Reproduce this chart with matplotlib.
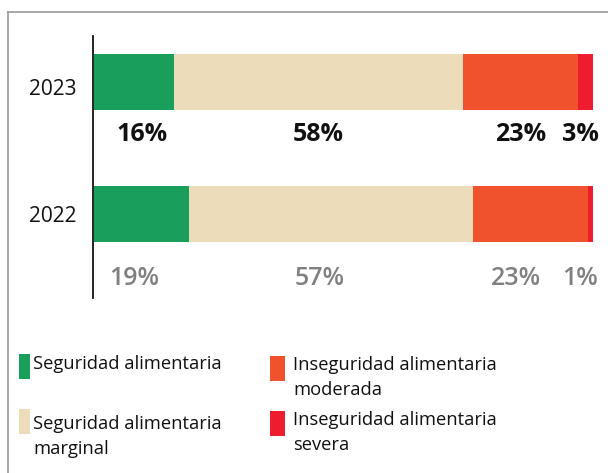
import matplotlib
matplotlib.use("Agg")
import matplotlib.pyplot as plt
from matplotlib.patches import Rectangle
from matplotlib.lines import Line2D
import matplotlib.transforms as mtransforms

years = ["2023", "2022"]
categories = ["Seguridad alimentaria", "Seguridad alimentaria\nmarginal",
              "Inseguridad alimentaria\nmoderada", "Inseguridad alimentaria\nsevera"]
values_2023 = [16, 58, 23, 3]
values_2022 = [19, 57, 23, 1]
series = [values_2023, values_2022]
colors = ["#1a9e5c", "#eddcb9", "#f0522d", "#ed1c2e"]

plt.rcParams['font.family'] = ['Open Sans', 'DejaVu Sans']

W, H = 608, 473
fig = plt.figure(figsize=(W / 100, H / 100), dpi=100)

def fx(px):
    return px / W

def fy(py):
    return 1 - py / H

# frame lines
fig.add_artist(Line2D([fx(8), fx(608)], [fy(12), fy(12)], color="#999999", lw=1.2))
fig.add_artist(Line2D([fx(8), fx(8)], [fy(12), fy(473)], color="#999999", lw=1.2))

ax = fig.add_axes([fx(94), fy(298), fx(499), (298 - 36) / H])
ypos = [1, 0]
bar_h = 0.424
for yv, vals in zip(ypos, series):
    left = 0
    for v, c in zip(vals, colors):
        ax.barh(yv, v, left=left, height=bar_h, color=c, edgecolor="none")
        left += v

# value labels
label_offsets = [-0.398, -0.492]
label_colors = ["#111111", "#808080"]
label_weights = ["bold", "semibold"]
for yv, vals, off, col, wt in zip(ypos, series, label_offsets, label_colors, label_weights):
    left = 0
    for i, v in enumerate(vals):
        xc = min(left + v / 2, 97.4)
        if i == 0:
            xc = left + v / 2 + (1.6 if wt == "bold" else -1.5)
        elif i == 1 and wt != "bold":
            xc -= 2.2
        elif i == 2 and wt != "bold":
            xc -= 3.0
        ax.text(xc, yv + off, f"{v}%", ha="center", va="center", fontsize=18,
                fontweight=wt, color=col, clip_on=False)
        left += v

ax.set_xlim(0, 100)
ax.set_ylim(-0.636, 1.348)
ax.set_yticks([])
ax.set_xticks([])
# year labels (category axis labels)
ylabel_shift = [-7.5, -2.5]
for yv, yr, sh in zip(ypos, years, ylabel_shift):
    tr = ax.get_yaxis_transform() + mtransforms.ScaledTranslation(-17 / 100, sh / 100, fig.dpi_scale_trans)
    ax.text(0, yv, yr, transform=tr, ha="right", va="center", fontsize=15,
            color="#111111", clip_on=False)
for s in ["top", "right", "bottom"]:
    ax.spines[s].set_visible(False)
ax.spines["left"].set_color("#111111")
ax.spines["left"].set_linewidth(1.3)
ax.spines["left"].set_position(("outward", 1))

# legend
patch_boxes = [(19, 354, 11, 25), (19, 409, 11, 25), (270, 356, 15, 25), (270, 411, 15, 25)]
text_pos = [(33, 355), (33, 415), (293, 356), (293, 411)]
for cat, c, (px, py, pw, ph), (tx, ty) in zip(categories, colors, patch_boxes, text_pos):
    fig.add_artist(Rectangle((fx(px), fy(py + ph)), pw / W, ph / H,
                             facecolor=c, edgecolor="none", transform=fig.transFigure))
    fig.text(fx(tx), fy(ty), cat, ha="left", va="top", fontsize=13.2,
             color="#111111", linespacing=1.5)

fig.savefig("out.png", dpi=100)
